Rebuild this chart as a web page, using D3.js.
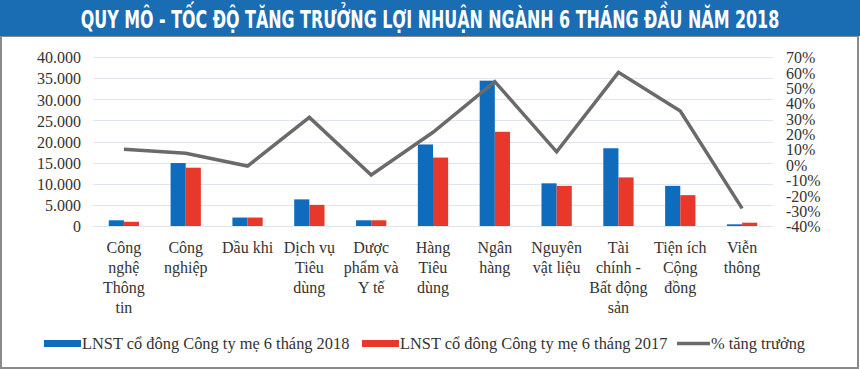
<!DOCTYPE html>
<html>
<head>
<meta charset="utf-8">
<script src="https://cdn.jsdelivr.net/npm/d3@7"></script>
<style>
  body { margin: 0; background: #fff; }
  .tickLeft, .tickRight, .xlabel, .legendText { font-family: "Liberation Serif", "Times New Roman", serif; fill: #333; }
</style>
</head>
<body>
<script>

// chart values
var categories = ["Công\nnghệ\nThông\ntin", "Công\nnghiệp", "Dầu khi", "Dịch vụ\nTiêu\ndùng",
  "Dược\nphẩm và\nY tế", "Hàng\nTiêu\ndùng", "Ngân\nhàng", "Nguyên\nvật liệu",
  "Tài\nchính -\nBất động\nsản", "Tiện ích\nCộng\nđồng", "Viễn\nthông"];
var profit2018 = [1350, 14900, 2000, 6300, 1350, 19300, 34400, 10100, 18400, 9500, 400];
var profit2017 = [1000, 13800, 2000, 5000, 1350, 16200, 22300, 9500, 11500, 7300, 780];
var growth = [10, 7.3, -1, 30.7, -6.8, 21, 54, 8.3, 60, 34.8, -28.5];
var leftTicks = [0, 5000, 10000, 15000, 20000, 25000, 30000, 35000, 40000];
var rightTicks = [-40, -30, -20, -10, 0, 10, 20, 30, 40, 50, 60, 70];
var seriesNames = ["LNST cổ đông Công ty mẹ 6 tháng 2018", "LNST cổ đông Công ty mẹ 6 tháng 2017", "% tăng trưởng"];

var W = 860, H = 369;
var colors = {blue: "#0f6cbd", red: "#e8382b", line: "#6a6a6a"};
var plot = {left: 93, right: 773, top: 57, bottom: 226};

var svg = d3.select("body").append("svg").attr("width", W).attr("height", H);

/************************************************************************************************************/
// frame + title band

svg.append("rect").attr("x", 1).attr("y", 36).attr("width", W - 3).attr("height", H - 37)
  .attr("fill", "#fff").attr("stroke", "#8a8a8a").attr("stroke-width", 2);

svg.append("rect").attr("x", 0).attr("y", 0).attr("width", W).attr("height", 36).attr("fill", "#1a6cb3");

var title = svg.append("text")
  .attr("text-anchor", "middle")
  .attr("font-family", "'Liberation Sans Narrow', 'DejaVu Sans Condensed', sans-serif")
  .attr("font-weight", "bold").attr("font-size", 24)
  .attr("fill", "#fff")
  .text("QUY MÔ - TỐC ĐỘ TĂNG TRƯỞNG LỢI NHUẬN NGÀNH 6 THÁNG ĐẦU NĂM 2018");
// squeeze the title to the width it has in the picture
var titleW = title.node().getComputedTextLength();
title.attr("transform", "translate(" + (W / 2) + ",28) scale(" + (699 / titleW) + ",1)");

/************************************************************************************************************/
// scales

var x = d3.scaleBand().domain(d3.range(categories.length)).range([plot.left, plot.right]).paddingInner(0.51).paddingOuter(0.255);
var xSub = d3.scaleBand().domain([0, 1]).range([0, x.bandwidth()]);
var yLeft = d3.scaleLinear().domain([0, 40000]).range([plot.bottom, plot.top]);
var yRight = d3.scaleLinear().domain([-40, 70]).range([plot.bottom, plot.top]);
var xCenter = function(i){ return x(i) + x.bandwidth() / 2; };

// grid
var grid = svg.append("g").attr("class", "grid");
leftTicks.forEach(function(t){
  grid.append("line")
    .attr("x1", plot.left).attr("x2", plot.right)
    .attr("y1", Math.round(yLeft(t)) + 0.5).attr("y2", Math.round(yLeft(t)) + 0.5)
    .attr("stroke", "#dde5ee").attr("stroke-width", 1);
});

// left axis
var axisLeft = svg.append("g").attr("transform", "translate(" + (plot.left - 12) + ",0)")
  .call(d3.axisLeft(yLeft).tickValues(leftTicks).tickSize(0)
    .tickFormat(function(d){ return d3.format(",")(d).replace(/,/g, "."); }));
axisLeft.select(".domain").remove();
axisLeft.selectAll("text").attr("class", "tickLeft").attr("font-size", 16).attr("dy", "0.36em").attr("x", 0);

// right axis
var axisRight = svg.append("g").attr("transform", "translate(786,0)")
  .call(d3.axisRight(yRight).tickValues(rightTicks).tickSize(0).tickFormat(function(d){ return d + "%"; }));
axisRight.select(".domain").remove();
axisRight.selectAll("text").attr("class", "tickRight").attr("font-size", 16).attr("dy", "0.36em").attr("x", 0);

/************************************************************************************************************/
// bars

var bars = svg.append("g").attr("class", "bars");
[profit2018, profit2017].forEach(function(values, s){
  bars.selectAll(".s" + s).data(values).enter().append("rect")
    .attr("class", "s" + s)
    .attr("x", function(d, i){ return x(i) + xSub(s); })
    .attr("width", xSub.bandwidth())
    .attr("y", function(d){ return yLeft(d); })
    .attr("height", function(d){ return yLeft(0) - yLeft(d); })
    .attr("fill", s === 0 ? colors.blue : colors.red);
});

// growth line
svg.append("path")
  .datum(growth)
  .attr("fill", "none").attr("stroke", colors.line).attr("stroke-width", 3.5)
  .attr("stroke-linejoin", "miter")
  .attr("d", d3.line().x(function(d, i){ return xCenter(i); }).y(function(d){ return yRight(d); }));

/************************************************************************************************************/
// category labels

var xlab = svg.append("g");
categories.forEach(function(c, i){
  var t = xlab.append("text").attr("class", "xlabel").attr("font-size", 16)
    .attr("text-anchor", "middle").attr("y", 253);
  c.split("\n").forEach(function(line, k){
    t.append("tspan").attr("x", xCenter(i)).attr("dy", k === 0 ? 0 : 20).text(line);
  });
});

/************************************************************************************************************/
// legend

var legend = svg.append("g").attr("transform", "translate(0,343)");
var legendX = [44, 362, 677];
seriesNames.forEach(function(name, s){
  var g = legend.append("g").attr("transform", "translate(" + legendX[s] + ",0)");
  if(s < 2){
    g.append("rect").attr("x", 0).attr("y", -3).attr("width", 37).attr("height", 7)
      .attr("fill", s === 0 ? colors.blue : colors.red);
  } else {
    g.append("line").attr("x1", 0).attr("x2", 33).attr("y1", 0.5).attr("y2", 0.5)
      .attr("stroke", colors.line).attr("stroke-width", 3.5);
  }
  g.append("text").attr("class", "legendText").attr("font-size", 16.4)
    .attr("x", s < 2 ? 38 : 34).attr("y", 6).text(name);
});

</script>
</body>
</html>
